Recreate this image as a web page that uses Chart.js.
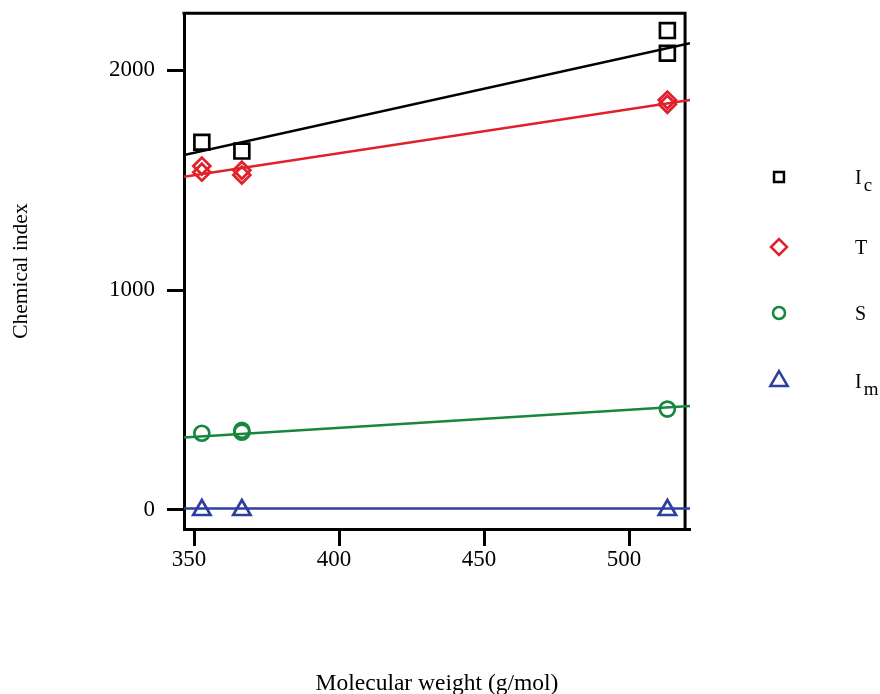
<!DOCTYPE html>
<html>
<head>
<meta charset="utf-8">
<script src="https://cdn.jsdelivr.net/npm/chart.js@4.4.1/dist/chart.umd.min.js"></script>
<style>
  html, body { margin: 0; padding: 0; background: #fff; }
  #wrap { width: 880px; height: 694px; }
</style>
</head>
<body>
<div id="wrap"><canvas id="chart" width="880" height="694"></canvas></div>
<script>
// measured points: molecular weight (g/mol) vs chemical index
const icX = [352.7, 366.5, 513.2, 513.2];
const icY = [1672, 1632, 2180, 2077];
const tX = [352.7, 352.7, 366.5, 366.5, 513.2, 513.2];
const tY = [1564, 1536, 1545, 1523, 1864, 1845];
const sX = [352.7, 366.5, 366.5, 513.2];
const sY = [349, 362, 354, 459];
const imX = [352.7, 366.5, 513.2];
const imY = [0, 0, 0];

// linear fits, read at the left and right edge of the plot
const fitX = [346.55, 521];
const icFit = [1614, 2122];
const tFit = [1515, 1864];
const sFit = [330, 473];
const imFit = [7, 7];

const xTicks = [350, 400, 450, 500];
const yTicks = [0, 1000, 2000];

const legendMain = ["I", "T", "S", "I"];
const legendSub = ["c", "", "", "m"];

const serif = "'Liberation Serif', 'Times New Roman', serif";
const colors = ["#000000", "#e0202a", "#17873d", "#2f3f9e"];
const styles = ["rect", "rectRot", "circle", "triangle"];
const radii = [10.5, 8.5, 7.5, 10];
const legendRadii = [7, 8, 6, 10];

function pts(xs, ys) {
  return xs.map((x, i) => ({ x: x, y: ys[i] }));
}

function markerSet(label, xs, ys, i) {
  return {
    label: label,
    data: pts(xs, ys),
    showLine: false,
    pointStyle: styles[i],
    pointRadius: radii[i],
    pointBorderWidth: 2.7,
    pointBorderColor: colors[i],
    pointBackgroundColor: "rgba(0,0,0,0)",
  };
}

function fitSet(ys, i) {
  return {
    label: "fit",
    data: pts(fitX, ys),
    showLine: true,
    borderColor: colors[i],
    borderWidth: 2.5,
    pointRadius: 0,
  };
}

// top and right frame lines (right one sits a little inside the x range)
const framePlugin = {
  id: "frame",
  beforeDatasetsDraw(chart) {
    const { ctx, chartArea, scales } = chart;
    const xr = scales.x.getPixelForValue(519.3);
    ctx.save();
    ctx.strokeStyle = "#000";
    ctx.lineWidth = 3;
    ctx.beginPath();
    ctx.moveTo(chartArea.left - 1.5, chartArea.top);
    ctx.lineTo(xr, chartArea.top);
    ctx.lineTo(xr, chartArea.bottom);
    ctx.stroke();
    ctx.restore();
  },
};

// legend on the right with subscripted labels
const legendPlugin = {
  id: "sideLegend",
  afterDraw(chart) {
    const ctx = chart.ctx;
    const rows = [177, 247, 313, 381];
    ctx.save();
    for (let i = 0; i < 4; i++) {
      ctx.strokeStyle = colors[i];
      ctx.fillStyle = "rgba(0,0,0,0)";
      ctx.lineWidth = 2.5;
      Chart.helpers.drawPoint(ctx, {
        pointStyle: styles[i],
        radius: legendRadii[i],
        rotation: 0,
        borderWidth: 2.5,
      }, 779, rows[i]);

      ctx.fillStyle = "#000";
      ctx.textBaseline = "middle";
      ctx.textAlign = "left";
      ctx.font = "20px " + serif;
      ctx.fillText(legendMain[i], 855, rows[i] + 2);
      if (legendSub[i]) {
        const w = ctx.measureText(legendMain[i]).width;
        ctx.font = "19px " + serif;
        ctx.fillText(legendSub[i], 855 + w + 2, rows[i] + 9);
      }
    }
    ctx.restore();
  },
};

const ctx = document.getElementById("chart").getContext("2d");
new Chart(ctx, {
  type: "scatter",
  data: {
    datasets: [
      fitSet(icFit, 0),
      fitSet(tFit, 1),
      fitSet(sFit, 2),
      fitSet(imFit, 3),
      markerSet("Ic", icX, icY, 0),
      markerSet("T", tX, tY, 1),
      markerSet("S", sX, sY, 2),
      markerSet("Im", imX, imY, 3),
    ],
  },
  options: {
    responsive: false,
    animation: false,
    layout: { padding: { top: 13, right: 190, left: 0, bottom: 0 } },
    plugins: {
      legend: { display: false },
      tooltip: { enabled: false },
    },
    scales: {
      x: {
        type: "linear",
        min: 346.55,
        max: 521,
        afterFit: (axis) => {
          axis.height = 165;
          axis.paddingLeft = 0;
          axis.paddingRight = 0;
        },
        afterBuildTicks: (axis) => { axis.ticks = xTicks.map((v) => ({ value: v })); },
        grid: { drawOnChartArea: false, drawTicks: true, tickLength: 17, tickWidth: 3, tickColor: "#000" },
        border: { display: true, color: "#000", width: 3 },
        ticks: {
          color: "#000",
          font: { family: serif, size: 23, lineHeight: 1 },
          padding: 2,
          labelOffset: -5,
          maxRotation: 0,
          autoSkip: false,
          callback: (v) => String(v),
        },
        title: {
          display: true,
          text: "Molecular weight (g/mol)",
          color: "#000",
          font: { family: serif, size: 23.5, lineHeight: 1.1 },
          padding: { top: 0, bottom: -3 },
        },
      },
      y: {
        type: "linear",
        min: -86.4,
        max: 2259,
        afterFit: (axis) => {
          axis.width = 184;
          axis.paddingTop = 0;
          axis.paddingBottom = 0;
        },
        afterBuildTicks: (axis) => { axis.ticks = yTicks.map((v) => ({ value: v })); },
        grid: { drawOnChartArea: false, drawTicks: true, tickLength: 17, tickWidth: 3, tickColor: "#000" },
        border: { display: true, color: "#000", width: 3 },
        ticks: {
          color: "#000",
          font: { family: serif, size: 23, lineHeight: 1 },
          padding: 12,
          autoSkip: false,
          callback: (v) => String(v),
        },
        title: {
          display: true,
          text: "Chemical index",
          color: "#000",
          font: { family: serif, size: 21.5, lineHeight: 1.1 },
          padding: { top: 10, bottom: 0 },
        },
      },
    },
  },
  plugins: [framePlugin, legendPlugin],
});
</script>
</body>
</html>
